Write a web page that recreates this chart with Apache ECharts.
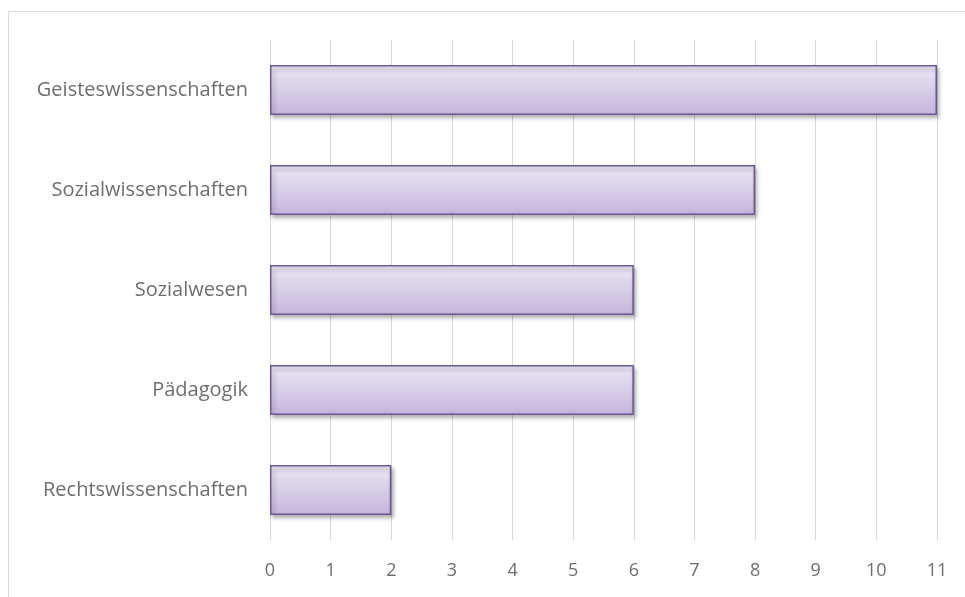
<!DOCTYPE html>
<html>
<head>
<meta charset="utf-8">
<script src="https://cdn.jsdelivr.net/npm/echarts@6/dist/echarts.min.js"></script>
<style>
  html, body { margin: 0; padding: 0; background: #fff; }
  #chart { width: 965px; height: 597px; }
</style>
</head>
<body>
<div id="chart"></div>
<script>
const categories = ['Geisteswissenschaften', 'Sozialwissenschaften', 'Sozialwesen', 'Pädagogik', 'Rechtswissenschaften']
const values = [11, 8, 6, 6, 2]

const chart = echarts.init(document.getElementById('chart'))

const option = {
  animation: false,
  textStyle: { fontFamily: 'Open Sans, sans-serif' },
  // frame of the chart area (only top and left edges are visible)
  graphic: [
    {
      type: 'rect',
      shape: { x: 8.5, y: 11.5, width: 1200, height: 1200 },
      style: { fill: 'none', stroke: '#d9d9d9', lineWidth: 1 },
      silent: true,
    },
  ],
  grid: {
    left: 270,
    right: 28,
    top: 40,
    bottom: 57,
    containLabel: false,
  },
  xAxis: {
    type: 'value',
    min: 0,
    max: 11,
    interval: 1,
    axisLine: { show: false },
    axisTick: { show: false },
    splitLine: { lineStyle: { color: '#d9d9d9', width: 1 } },
    axisLabel: { color: '#6e6e6e', fontSize: 18, margin: 22 },
  },
  yAxis: {
    type: 'category',
    inverse: true,
    data: categories,
    axisLine: { show: false },
    axisTick: { show: false },
    axisLabel: { color: '#6e6e6e', fontSize: 20, margin: 22 },
  },
  series: [
    {
      type: 'bar',
      data: values,
      barCategoryGap: '50%',
      itemStyle: {
        color: new echarts.graphic.LinearGradient(0, 0, 0, 1, [
          { offset: 0, color: '#ebe7f4' },
          { offset: 1, color: '#c3b5dc' },
        ]),
        borderColor: '#6b5896',
        borderWidth: 1.5,
        shadowBlur: 4,
        shadowOffsetX: 2,
        shadowOffsetY: 3,
        shadowColor: 'rgba(0,0,0,0.3)',
      },
    },
  ],
}

chart.setOption(option)
</script>
</body>
</html>
